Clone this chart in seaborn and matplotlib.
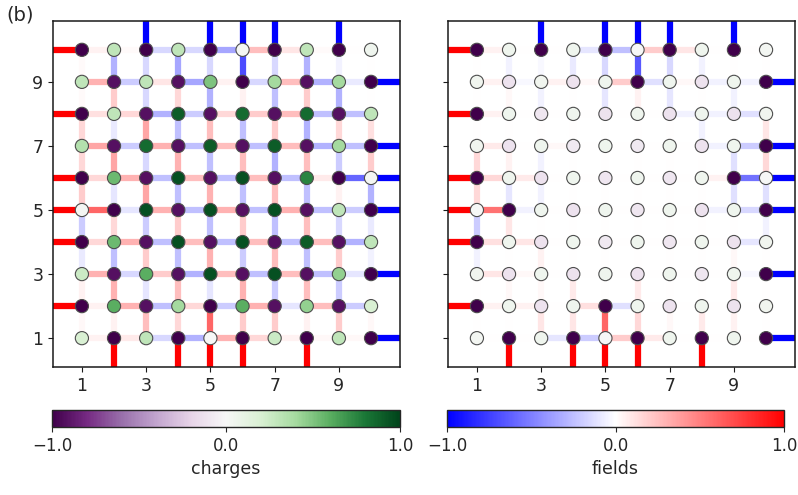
import numpy as np
import pandas as pd
import matplotlib
matplotlib.use("Agg")
import matplotlib.pyplot as plt
import seaborn as sns
from matplotlib.collections import LineCollection
from matplotlib.colors import Normalize
from matplotlib.cm import ScalarMappable

sns.set_style("ticks")

# -------------------------
# Lattice data (10 x 10 sites, rows listed from y=10 down to y=1)
# -------------------------
N = 10
lattice_ticks = [1, 3, 5, 7, 9]
cbar_ticks = [-1.0, 0.0, 1.0]
cbar_ticklabels = ["\u22121.0", "0.0", "1.0"]

# boundary links, identical in both panels
left_rows = [10, 8, 6, 5, 4, 2]     # field +1
right_rows = [9, 7, 6, 5, 3, 1]     # field -1
top_cols = [3, 5, 6, 7, 9]          # field -1
bottom_cols = [2, 4, 5, 6, 8]       # field +1

# left panel: site charges
charges_a = [
    [-1, 0.3, -1, 0.3, -1, 0.02, -1, 0.3, -1, 0.05],
    [0.3, -0.92, 0.3, -0.92, 0.5, -1, 0.4, -0.92, 0.4, -1],
    [-1, 0.3, -0.92, 0.9, -0.92, 0.85, -0.92, 0.85, -0.92, 0.3],
    [0.35, -0.92, 0.85, -0.92, 0.9, -0.92, 0.9, -0.92, 0.4, -1],
    [-1, 0.55, -0.92, 0.95, -0.92, 0.95, -0.92, 0.75, -1, 0.02],
    [0.02, -1, 0.95, -0.92, 0.95, -0.92, 0.95, -0.92, 0.3, -1],
    [-1, 0.55, -0.92, 0.95, -0.92, 0.95, -0.92, 0.9, -0.92, 0.3],
    [0.25, -0.92, 0.6, -0.92, 0.95, -0.92, 0.95, -0.92, 0.45, -1],
    [-1, 0.6, -0.92, 0.4, -1, 0.6, -0.92, 0.45, -0.92, 0.2],
    [0.2, -1, 0.3, -1, 0.0, -1, 0.25, -1, 0.3, -1],
]
# horizontal links (x -> x+1), rows y=10..1
hfields_a = [
    [0.05, 0.02, -0.15, -0.15, -0.35, 0.25, 0.1, 0.02, 0.0],
    [0.3, -0.2, 0.1, -0.35, 0.05, -0.15, 0.25, -0.3, -0.08],
    [0.12, 0.15, -0.3, -0.2, 0.15, 0.2, 0.25, -0.25, -0.25],
    [0.35, -0.2, 0.3, -0.25, 0.25, -0.25, 0.25, -0.3, -0.25],
    [0.15, 0.3, -0.25, 0.25, -0.25, 0.25, -0.25, 0.08, -0.6],
    [0.6, -0.1, 0.3, -0.25, 0.3, -0.25, 0.3, -0.25, -0.2],
    [0.15, 0.3, -0.25, 0.25, -0.25, 0.25, -0.25, 0.25, -0.3],
    [0.3, -0.15, 0.2, -0.3, 0.25, -0.25, 0.25, -0.25, -0.1],
    [0.05, 0.3, -0.25, 0.15, -0.2, 0.3, -0.1, 0.25, -0.2],
    [0.05, 0.08, -0.15, -0.3, 0.3, 0.15, 0.05, 0.03, 0.03],
]
# vertical links (y -> y+1), from pair 9-10 down to pair 1-2
vfields_a = [
    [0.02, -0.3, -0.15, -0.35, -0.15, -0.7, -0.15, -0.3, -0.05, 0.0],
    [0.02, 0.2, -0.15, 0.15, -0.3, 0.05, -0.25, 0.2, -0.3, 0.0],
    [0.15, -0.08, 0.35, -0.25, 0.25, -0.25, 0.2, -0.3, 0.15, 0.12],
    [0.15, 0.35, -0.15, 0.3, -0.25, 0.25, -0.3, 0.25, -0.2, 0.2],
    [0.2, -0.1, 0.35, -0.25, 0.3, -0.25, 0.25, -0.25, 0.05, -0.3],
    [-0.2, 0.15, -0.2, 0.2, -0.25, 0.2, -0.25, 0.25, -0.15, -0.08],
    [-0.08, -0.25, 0.2, -0.25, 0.3, -0.2, 0.25, -0.25, 0.2, -0.05],
    [0.05, 0.3, -0.1, 0.25, -0.1, 0.3, -0.2, 0.25, -0.2, 0.0],
    [0.03, 0.05, 0.25, 0.15, 0.6, 0.2, 0.2, 0.05, 0.2, 0.03],
]

# right panel
charges_b = [
    [-1, 0.05, -1, 0.05, -1, 0.0, -1, 0.05, -1, 0.03],
    [0.04, -0.12, 0.04, -0.12, 0.05, -1, 0.05, -0.12, 0.05, -1],
    [-1, 0.05, -0.1, 0.05, -0.12, 0.05, -0.12, 0.05, -0.12, 0.04],
    [0.04, -0.12, 0.05, -0.08, 0.05, -0.08, 0.05, -0.12, 0.05, -1],
    [-1, 0.05, -0.12, 0.05, -0.1, 0.05, -0.1, 0.05, -1, 0.0],
    [0.0, -1, 0.05, -0.12, 0.05, -0.1, 0.05, -0.12, 0.05, -1],
    [-1, 0.05, -0.12, 0.05, -0.08, 0.05, -0.1, 0.05, -0.12, 0.04],
    [0.04, -0.12, 0.05, -0.12, 0.05, -0.12, 0.05, -0.1, 0.05, -1],
    [-1, 0.05, -0.12, 0.05, -1, 0.05, -0.12, 0.05, -0.12, 0.04],
    [0.03, -1, 0.05, -1, 0.0, -1, 0.05, -1, 0.05, -1],
]
hfields_b = [
    [0.05, 0.0, 0.0, -0.1, -0.25, 0.2, 0.1, 0.0, 0.0],
    [0.05, -0.03, 0.05, 0.03, 0.2, -0.12, 0.03, -0.05, -0.05],
    [0.05, 0.0, 0.0, 0.0, 0.0, 0.0, -0.05, -0.05, -0.12],
    [0.08, 0.0, 0.03, 0.0, 0.0, 0.0, 0.0, -0.05, -0.2],
    [0.15, 0.08, 0.0, 0.0, 0.0, 0.0, 0.0, 0.05, -0.55],
    [0.55, -0.05, 0.0, 0.0, 0.0, 0.0, 0.0, -0.05, -0.15],
    [0.12, 0.1, 0.0, 0.0, 0.0, 0.0, 0.0, 0.0, -0.1],
    [0.1, 0.03, 0.0, 0.0, 0.0, 0.0, 0.0, 0.0, -0.03],
    [0.05, 0.05, 0.0, 0.12, -0.12, 0.0, 0.0, 0.0, 0.0],
    [0.0, 0.0, -0.1, -0.2, 0.2, 0.08, 0.0, 0.0, 0.0],
]
vfields_b = [
    [0.0, -0.05, -0.03, -0.08, -0.15, -0.65, -0.15, -0.05, 0.0, 0.0],
    [0.0, 0.03, -0.05, 0.0, -0.1, 0.05, -0.1, 0.0, -0.05, 0.0],
    [0.0, 0.0, 0.0, 0.0, 0.0, 0.0, 0.0, -0.05, 0.0, 0.1],
    [0.15, 0.05, -0.05, 0.0, 0.0, 0.0, 0.0, 0.0, -0.12, 0.15],
    [0.15, -0.1, -0.05, 0.0, 0.0, 0.0, 0.0, 0.0, -0.12, -0.12],
    [-0.2, 0.1, 0.0, 0.0, 0.0, 0.0, 0.0, 0.0, 0.0, -0.05],
    [-0.05, 0.0, 0.05, 0.0, 0.0, 0.0, 0.0, 0.0, 0.03, 0.0],
    [0.0, 0.03, 0.03, 0.08, 0.0, 0.08, 0.0, 0.0, 0.08, 0.0],
    [0.0, 0.0, 0.1, 0.1, 0.6, 0.15, 0.03, 0.08, 0.05, 0.0],
]

norm = Normalize(vmin=-1, vmax=1)


def draw_panel(ax, charges, hfields, vfields):
    segs, vals = [], []
    for k, row in enumerate(hfields):
        y = N - k
        for i, f in enumerate(row):
            segs.append([(i + 1, y), (i + 2, y)])
            vals.append(f)
    for k, row in enumerate(vfields):
        y = N - 1 - k
        for i, f in enumerate(row):
            segs.append([(i + 1, y), (i + 1, y + 1)])
            vals.append(f)
    # boundary links leave the box
    for y in left_rows:
        segs.append([(0, y), (1, y)]); vals.append(1.0)
    for y in right_rows:
        segs.append([(N, y), (N + 1, y)]); vals.append(-1.0)
    for x in top_cols:
        segs.append([(x, N), (x, N + 1)]); vals.append(-1.0)
    for x in bottom_cols:
        segs.append([(x, 0), (x, 1)]); vals.append(1.0)

    lc = LineCollection(segs, cmap="bwr", norm=norm, linewidths=4.5,
                        capstyle="butt", zorder=1)
    lc.set_array(np.array(vals))
    ax.add_collection(lc)

    q = np.array(charges)
    yy, xx = np.meshgrid(np.arange(N, 0, -1), np.arange(1, N + 1), indexing="ij")
    df = pd.DataFrame({"x": xx.ravel(), "y": yy.ravel(), "q": q.ravel()})
    sns.scatterplot(data=df, x="x", y="y", hue="q", palette="PRGn",
                    hue_norm=(-1, 1), s=90, edgecolor="0.3", linewidth=0.8,
                    legend=False, ax=ax, zorder=3)

    ax.set_xlim(0.1, 10.9)
    ax.set_ylim(0.1, 10.9)
    ax.set_xticks(lattice_ticks)
    ax.set_yticks(lattice_ticks)
    ax.set_xlabel("")
    ax.set_ylabel("")
    ax.tick_params(labelsize=12.5, color="0.1")
    for sp in ax.spines.values():
        sp.set_color("0.1")
        sp.set_linewidth(1.1)


fig = plt.figure(figsize=(7.98, 4.95), dpi=100)
ax_a = fig.add_axes([0.0664, 0.2586, 0.4348, 0.699])
ax_b = fig.add_axes([0.5614, 0.2586, 0.4348, 0.699])

draw_panel(ax_a, charges_a, hfields_a, vfields_a)
draw_panel(ax_b, charges_b, hfields_b, vfields_b)
ax_b.set_yticklabels([])

cax_a = fig.add_axes([0.0652, 0.1374, 0.436, 0.0343])
cax_b = fig.add_axes([0.5602, 0.1374, 0.4223, 0.0343])
for cax, cmap, label in [(cax_a, "PRGn", "charges"), (cax_b, "bwr", "fields")]:
    cb = fig.colorbar(ScalarMappable(norm=norm, cmap=cmap), cax=cax,
                      orientation="horizontal", ticks=cbar_ticks)
    cb.set_ticklabels(cbar_ticklabels)
    cb.ax.tick_params(labelsize=12)
    cb.set_label(label, fontsize=12.5)
    cb.outline.set_linewidth(1.0)

fig.text(0.008, 0.988, "(b)", fontsize=14, va="top", ha="left")

plt.savefig("out.png", dpi=100)
plt.close()
